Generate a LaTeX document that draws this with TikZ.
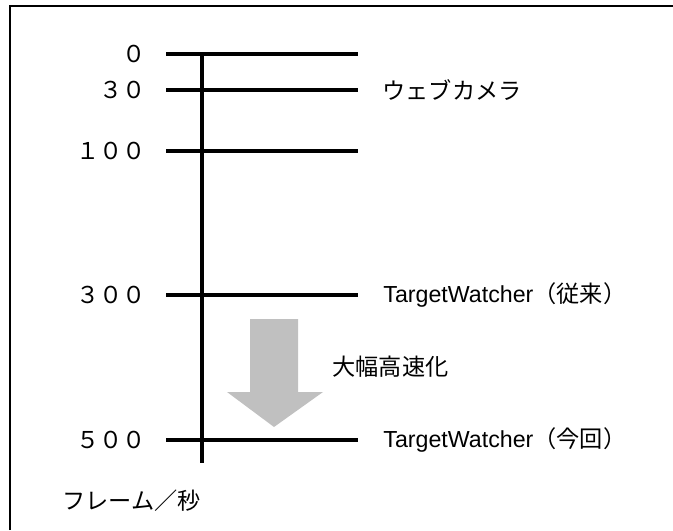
\documentclass[tikz,border=0pt]{standalone}
\usepackage{fontspec}
\setmainfont{Liberation Sans}
\newfontfamily\jpfont{Noto Sans CJK JP}
\usepackage{tikz}
\definecolor{arrowgray}{HTML}{C0C0C0}

\begin{document}
\begin{tikzpicture}[x=0.5pt,y=-0.5pt,
    tickline/.style={line width=1.65pt},
    ratelabel/.style={anchor=east,inner sep=0pt,font=\jpfont\fontsize{11.6}{13}\selectfont},
    namelabel/.style={anchor=west,inner sep=0pt,font=\fontsize{11.6}{13}\selectfont}]
\useasboundingbox (0,0) rectangle (673,530);
\draw[line width=1pt] (10,530) -- (10,5.5) -- (673,5.5);

\coordinate (axtop) at (202,54);
\coordinate (axbot) at (202,463);
\draw[tickline] (axtop) -- (axbot);

\coordinate (r0a) at (166,54);
\coordinate (r0b) at (358,54);
\draw[tickline] (r0a) -- (r0b);
\node[ratelabel] (n0) at (146,54) {０};

\coordinate (r30a) at (166,90);
\coordinate (r30b) at (358,90);
\draw[tickline] (r30a) -- (r30b);
\node[ratelabel] (n30) at (146,90) {３０};
\node[namelabel] (w30) at (382,90) {\jpfont ウェブカメラ};

\coordinate (r100a) at (166,151);
\coordinate (r100b) at (358,151);
\draw[tickline] (r100a) -- (r100b);
\node[ratelabel] (n100) at (146,151) {１００};

\coordinate (r300a) at (166,295);
\coordinate (r300b) at (358,295);
\draw[tickline] (r300a) -- (r300b);
\node[ratelabel] (n300) at (146,295) {３００};
\node[namelabel] (w300) at (383,295) {TargetWatcher{\jpfont （従来）}};

\coordinate (r500a) at (166,440);
\coordinate (r500b) at (358,440);
\draw[tickline] (r500a) -- (r500b);
\node[ratelabel] (n500) at (146,440) {５００};
\node[namelabel] (w500) at (383,440) {TargetWatcher{\jpfont （今回）}};

\fill[arrowgray] (250,319) -- (298,319) -- (298,392) -- (323,392) -- (274,427)
    -- (227,392) -- (250,392) -- cycle;
\node[namelabel] (speed) at (332,367) {\jpfont 大幅高速化};

\node[namelabel] (unit) at (62,501) {\jpfont フレーム／秒};
\end{tikzpicture}
\end{document}
